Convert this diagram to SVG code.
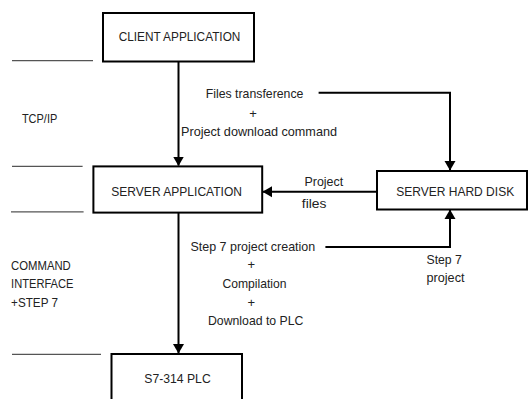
<svg xmlns="http://www.w3.org/2000/svg" width="529" height="399" viewBox="0 0 529 399">
<style>
.box{fill:#fff;stroke:#000;stroke-width:2}
.ln{fill:none;stroke:#000;stroke-width:2}
.sep{stroke:#555;stroke-width:1.2}
text{font-family:"Liberation Sans",Arial,sans-serif;font-size:13px;fill:#222}
</style>
<defs>
<marker id="arr" markerWidth="10" markerHeight="12" refX="9" refY="6" orient="auto" markerUnits="userSpaceOnUse">
<path d="M0,0.5 L9.5,6 L0,11.5 Z" fill="#000"/>
</marker>
</defs>
<rect width="529" height="399" fill="#fff"/>
<g id="separators">
<line class="sep" x1="12" y1="60.7" x2="93" y2="60.7"/>
<line class="sep" x1="12" y1="166.4" x2="82.6" y2="166.4"/>
<line class="sep" x1="11" y1="211.9" x2="83.6" y2="211.9"/>
<line class="sep" x1="12" y1="354.4" x2="101" y2="354.4"/>
</g>
<g id="connectors">
<line class="ln" x1="178.5" y1="62" x2="178.5" y2="165.5" marker-end="url(#arr)"/>
<line class="ln" x1="178.5" y1="213" x2="178.5" y2="353" marker-end="url(#arr)"/>
<line class="ln" x1="377" y1="191.7" x2="263" y2="191.7" marker-end="url(#arr)"/>
<polyline class="ln" points="318.6,92.7 450,92.7 450,170" marker-end="url(#arr)"/>
<polyline class="ln" points="325.4,247 450,247 450,210" marker-end="url(#arr)"/>
</g>
<g id="client">
<rect class="box" x="103" y="13" width="151" height="48.5"/>
<text x="118.7" y="41" textLength="121.7" lengthAdjust="spacingAndGlyphs">CLIENT APPLICATION</text>
</g>
<g id="server">
<rect class="box" x="93.4" y="166.4" width="168.8" height="46.2"/>
<text x="111.3" y="195.5" textLength="130.7" lengthAdjust="spacingAndGlyphs">SERVER APPLICATION</text>
</g>
<g id="disk">
<rect class="box" x="377" y="171" width="150" height="38.5"/>
<text x="396.2" y="196.3" textLength="118" lengthAdjust="spacingAndGlyphs">SERVER HARD DISK</text>
</g>
<g id="plc">
<rect class="box" x="111.5" y="354" width="130.5" height="50"/>
<text x="144.3" y="383" textLength="66.4" lengthAdjust="spacingAndGlyphs">S7-314 PLC</text>
</g>
<g id="labels">
<text x="21.9" y="123" textLength="35.4" lengthAdjust="spacingAndGlyphs">TCP/IP</text>
<text x="205.7" y="97.5" textLength="97.7" lengthAdjust="spacingAndGlyphs">Files transference</text>
<text x="249.3" y="117.5">+</text>
<text x="181" y="135.5" textLength="156" lengthAdjust="spacingAndGlyphs">Project download command</text>
<text x="304.5" y="186" textLength="38.7" lengthAdjust="spacingAndGlyphs">Project</text>
<text x="301.8" y="208.2" textLength="24.6" lengthAdjust="spacingAndGlyphs">files</text>
<text x="190.5" y="251" textLength="124.7" lengthAdjust="spacingAndGlyphs">Step 7 project creation</text>
<text x="247.5" y="268.5">+</text>
<text x="222.5" y="288" textLength="64" lengthAdjust="spacingAndGlyphs">Compilation</text>
<text x="247.5" y="306.5">+</text>
<text x="208" y="324.7" textLength="95.4" lengthAdjust="spacingAndGlyphs">Download to PLC</text>
<text x="426.5" y="264.2" textLength="35.4" lengthAdjust="spacingAndGlyphs">Step 7</text>
<text x="426.5" y="281.5" textLength="38" lengthAdjust="spacingAndGlyphs">project</text>
<text x="11.1" y="270" textLength="59.7" lengthAdjust="spacingAndGlyphs">COMMAND</text>
<text x="11.1" y="287.6" textLength="62.4" lengthAdjust="spacingAndGlyphs">INTERFACE</text>
<text x="11.1" y="306.5" textLength="46.9" lengthAdjust="spacingAndGlyphs">+STEP 7</text>
</g>
</svg>
